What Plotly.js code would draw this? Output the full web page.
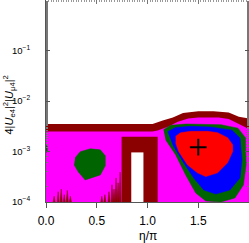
<!DOCTYPE html>
<html><head><meta charset="utf-8">
<script src="https://cdn.plot.ly/plotly-3.0.1.min.js"></script>
<style>html,body{margin:0;padding:0;background:#fff}#g{width:249px;height:243px}</style>
</head><body><div id="g"></div>
<script>
// outer dark-red band (upper edge)
var bandEta = [0, 1.05, 1.15, 1.25, 1.35, 1.5, 1.65, 1.8, 1.9, 2.0];
var bandTop = [3.5e-3, 3.5e-3, 4.1e-3, 4.7e-3, 5.8e-3, 6.3e-3, 6.3e-3, 5.9e-3, 4.9e-3, 4.5e-3];
// magenta region (upper edge)
var magEta = [0, 1.05, 1.1, 1.2, 1.3, 1.4, 1.5, 1.7, 1.8, 1.9, 2.0];
var magTop = [2.5e-3, 2.5e-3, 2.6e-3, 3.1e-3, 3.9e-3, 4.5e-3, 4.7e-3, 4.7e-3, 4.4e-3, 3.5e-3, 2.8e-3];
// dark-red block and white gap
var blockEta = [0.745, 1.10];
var blockTop = 1.95e-3;
var gapEta = [0.84, 0.96];
var gapTop = 9.6e-4;
// dark-red spikes near the bottom
var spikeEta = [0.08, 0.12, 0.15, 0.18, 0.21, 0.24, 0.55, 0.58, 0.62, 0.65, 0.67, 0.69, 0.71, 0.73];
var spikeTop = [1.3e-4, 1.6e-4, 1.8e-4, 1.4e-4, 1.7e-4, 1.3e-4, 1.3e-4, 1.4e-4, 1.6e-4, 2.2e-4, 1.8e-4, 3.0e-4, 2.4e-4, 3.9e-4];
// left green islands
var gLeftEta = [0.287, 0.337, 0.436, 0.535, 0.584, 0.584, 0.535, 0.455, 0.386, 0.317, 0.277];
var gLeftY = [7.5e-4, 9.9e-4, 1.13e-3, 1.08e-3, 8.2e-4, 5.2e-4, 3.44e-4, 3.0e-4, 2.74e-4, 3.95e-4, 5.45e-4];
var gEdgeEta = [0, 0.012, 0.012, 0];
var gEdgeY = [1.35e-3, 1.25e-3, 1.0e-3, 0.95e-3];
// right contours: green (outer), blue, red (inner)
var greenEta = [1.158, 1.228, 1.376, 1.525, 1.723, 1.891, 1.965, 1.972, 1.945, 1.861, 1.723, 1.574, 1.475, 1.376, 1.277, 1.178];
var greenY = [2.7e-3, 3.3e-3, 3.5e-3, 3.5e-3, 3.4e-3, 2.9e-3, 1.88e-3, 5.45e-4, 2.18e-4, 1.2e-4, 1.0e-4, 1.05e-4, 1.51e-4, 3.44e-4, 8.6e-4, 1.71e-3];
var blueEta = [1.198, 1.277, 1.426, 1.624, 1.832, 1.911, 1.931, 1.911, 1.812, 1.673, 1.554, 1.455, 1.356, 1.248];
var blueY = [2.47e-3, 3.0e-3, 3.15e-3, 3.05e-3, 2.65e-3, 1.85e-3, 6.85e-4, 3.0e-4, 1.73e-4, 1.44e-4, 1.73e-4, 3.0e-4, 5.97e-4, 1.36e-3];
var redEta = [1.277, 1.327, 1.426, 1.594, 1.690, 1.789, 1.839, 1.839, 1.789, 1.690, 1.574, 1.492, 1.393, 1.307, 1.277];
var redY = [2.0e-3, 2.36e-3, 2.51e-3, 2.51e-3, 2.36e-3, 1.88e-3, 1.36e-3, 1.0e-3, 5.97e-4, 3.78e-4, 3.19e-4, 3.78e-4, 5.45e-4, 1.0e-3, 1.49e-3];
// best fit point
var bestEta = [1.5];
var bestY = [1.22e-3];
// axis ticks
var xTickVals = [0, 0.5, 1.0, 1.5];
var xTickText = ['0.0', '0.5', '1.0', '1.5'];
var yTickVals = [1e-4, 1e-3, 1e-2, 1e-1];
var yTickText = ['10<sup>−4</sup>', '10<sup>−3</sup>', '10<sup>−2</sup>', '10<sup>−1</sup>'];

var YB = 1e-4;
function area(xs, tops, color) {
  var x = xs.slice(), y = tops.slice();
  x.push(xs[xs.length - 1], xs[0]); y.push(YB, YB);
  return {x: x, y: y, type: 'scatter', mode: 'lines', fill: 'toself', fillcolor: color,
          line: {width: 0, color: color}, hoverinfo: 'skip', showlegend: false};
}
function poly(xs, ys, color) {
  return {x: xs, y: ys, type: 'scatter', mode: 'lines', fill: 'toself', fillcolor: color,
          line: {width: 0.5, color: color}, hoverinfo: 'skip', showlegend: false};
}
function spikes(xs, tops, w, color) {
  var x = [], y = [];
  for (var i = 0; i < xs.length; i++) {
    x.push(xs[i] - w, xs[i], xs[i] + w, null);
    y.push(YB, tops[i], YB, null);
  }
  return {x: x, y: y, type: 'scatter', mode: 'lines', fill: 'toself', fillcolor: color,
          line: {width: 0.5, color: color}, hoverinfo: 'skip', showlegend: false};
}
var DR = '#8b0000', MG = '#ff00ff', GR = '#006400', BL = '#0000ff', RD = '#ff0000';
var traces = [
  area(bandEta, bandTop, DR),
  area(magEta, magTop, MG),
  spikes(spikeEta, spikeTop, 0.01, DR),
  area(blockEta, [blockTop, blockTop], DR),
  area(gapEta, [gapTop, gapTop], '#ffffff'),
  poly(gLeftEta, gLeftY, GR),
  poly(gEdgeEta, gEdgeY, GR),
  poly(greenEta, greenY, GR),
  poly(blueEta, blueY, BL),
  poly(redEta, redY, RD),
  {x: bestEta, y: bestY, type: 'scatter', mode: 'markers', showlegend: false, hoverinfo: 'skip',
   marker: {symbol: 'cross-thin', size: 12, line: {width: 2, color: '#000'}}},
  {x: [0, 2], y: [1e-4, 1e-4], xaxis: 'x2', yaxis: 'y', type: 'scatter', mode: 'none', showlegend: false, hoverinfo: 'skip'}
];
var F = 'Liberation Sans, Arial, sans-serif';
var layout = {
  width: 249, height: 243,
  margin: {l: 46, r: 0, t: 0, b: 41},
  paper_bgcolor: '#fff', plot_bgcolor: '#fff',
  showlegend: false,
  xaxis: {range: [0, 2], tickvals: xTickVals, ticktext: xTickText, ticks: 'outside', ticklen: 5,
          tickcolor: '#555', showline: true, linecolor: '#555', linewidth: 1, showgrid: false,
          zeroline: false, mirror: true, ticklabelstandoff: 3, tickfont: {family: F, size: 12, color: '#000'}},
  xaxis2: {overlaying: 'x', side: 'top', range: [0, 2], dtick: 0.5, ticks: 'inside', ticklen: 4,
           tickcolor: '#777', showticklabels: false, showgrid: false, zeroline: false, showline: false,
           minor: {dtick: 0.025, ticks: 'inside', ticklen: 2, tickcolor: '#999'}},
  yaxis: {type: 'log', range: [-4, 0], tickvals: yTickVals, ticktext: yTickText, ticks: 'inside', ticklen: 4,
          tickcolor: '#555', showline: true, linecolor: '#555', linewidth: 1, mirror: 'ticks', showgrid: false,
          zeroline: false, ticklabelstandoff: 13, tickfont: {family: F, size: 9.5, color: '#000'},
          minor: {ticks: 'inside', ticklen: 2, tickcolor: '#777', showgrid: false}},
  annotations: [
    {text: '4|<i>U</i><sub>e4</sub>|<sup>2</sup>|<i>U</i><sub>μ4</sub>|<sup>2</sup>', textangle: -90,
     xref: 'paper', yref: 'paper', x: -0.18, y: 0.48, xanchor: 'center', yanchor: 'middle',
     showarrow: false, font: {family: F, size: 11, color: '#000'}},
    {text: 'η/π', xref: 'paper', yref: 'paper', x: 0.5, y: -0.17, xanchor: 'center', yanchor: 'middle',
     showarrow: false, font: {family: F, size: 12, color: '#000'}}
  ]
};
Plotly.newPlot('g', traces, layout, {staticPlot: true, displayModeBar: false});
</script></body></html>
